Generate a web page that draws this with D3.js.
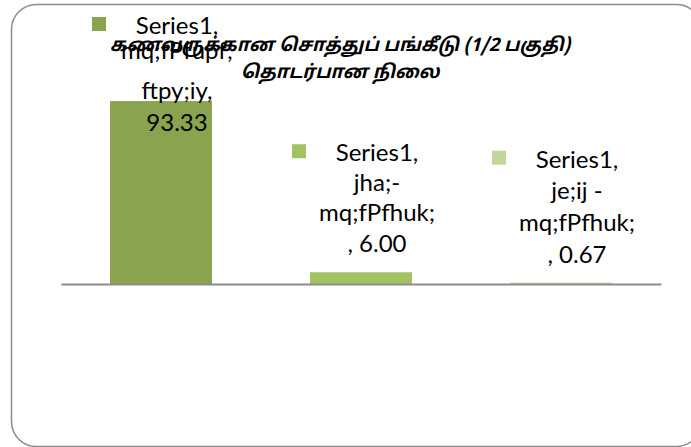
<!DOCTYPE html>
<html>
<head>
<meta charset="utf-8">
<script src="https://cdn.jsdelivr.net/npm/d3@7"></script>
<style>
  body { margin: 0; background: #fff; }
  svg text { font-family: Lato, "Open Sans", sans-serif; }
</style>
</head>
<body>
<script>
// chart data
var categories = ["mq;fPfupf; ftpy;iy", "jha;- mq;fPfhuk;", "je;ij - mq;fPfhuk;"];
var values = [93.33, 6.00, 0.67];
var seriesName = "Series1";
var barColors = ["#89a34f", "#a3c261", "#c3d69b"];
var titleLines = ["கணவருக்கான சொத்துப் பங்கீடு (1/2 பகுதி)", "தொடர்பான நிலை"];

// the text lines of each data label, as they wrap in the picture
var labelLines = [
  ["Series1,", "mq;fPfupf;", "ftpy;iy,", "93.33"],
  ["Series1,", "jha;-", "mq;fPfhuk;", ", 6.00"],
  ["Series1,", "je;ij -", "mq;fPfhuk;", ", 0.67"]
];
// baseline offsets of the label lines (the first label is squeezed at the top)
var labelLineOffsets = [
  [0, 25, 65, 97],
  [0, 30, 60, 91],
  [0, 31, 63, 95]
];

var width = 691, height = 447;
var axisY = 284, plotTop = 88, plotLeft = 61, plotRight = 661;

var svg = d3.select("body").append("svg")
    .attr("width", width)
    .attr("height", height);

// chart border
svg.append("rect")
    .attr("x", 11.5)
    .attr("y", 4.5)
    .attr("width", 690)
    .attr("height", 442)
    .attr("rx", 25)
    .attr("ry", 25)
    .attr("fill", "#fff")
    .attr("stroke", "#8c8c8c")
    .attr("stroke-width", 1.5);

var xScale = d3.scaleBand()
    .domain(categories)
    .range([plotLeft, plotRight])
    .paddingInner(0.49)
    .paddingOuter(0.245);

var yScale = d3.scaleLinear()
    .domain([0, 100])
    .range([axisY, plotTop]);

// bars
svg.selectAll(".bar")
    .data(values)
    .enter().append("rect")
    .attr("class", "bar")
    .attr("x", function(d, i) { return xScale(categories[i]); })
    .attr("y", function(d) { return yScale(d); })
    .attr("width", xScale.bandwidth())
    .attr("height", function(d) { return axisY - yScale(d); })
    .attr("fill", function(d, i) { return barColors[i]; });

// category axis, line only
var xAxis = d3.axisBottom(xScale).tickSize(0).tickFormat("");
var axisG = svg.append("g")
    .attr("transform", "translate(0," + axisY + ")")
    .call(xAxis);
axisG.select(".domain")
    .attr("stroke", "#8c8c8c")
    .attr("stroke-width", 2);

// data labels with legend keys
var labels = svg.selectAll(".label")
    .data(values)
    .enter().append("g")
    .attr("class", "label")
    .attr("transform", function(d, i) {
      var cx = xScale(categories[i]) + xScale.bandwidth() / 2;
      var offs = labelLineOffsets[i];
      var firstBase = yScale(d) - 20 - offs[offs.length - 1];
      if (firstBase < 34) firstBase = 34;
      return "translate(" + cx + "," + firstBase + ")";
    });

labels.append("rect")
    .attr("x", -69)
    .attr("y", -17)
    .attr("width", 14)
    .attr("height", 14)
    .attr("fill", function(d, i) { return barColors[i]; });

labels.each(function(d, i) {
  var g = d3.select(this);
  labelLines[i].forEach(function(line, j) {
    g.append("text")
      .attr("x", 16)
      .attr("y", labelLineOffsets[i][j])
      .attr("text-anchor", "middle")
      .style("font-size", "24px")
      .style("fill", "#000")
      .text(line);
  });
});

// title
svg.selectAll(".title")
    .data(titleLines)
    .enter().append("text")
    .attr("class", "title")
    .attr("x", 340)
    .attr("y", function(d, i) { return 51 + i * 27; })
    .attr("text-anchor", "middle")
    .style("font-size", "18.5px")
    .style("font-weight", "bold")
    .style("font-style", "italic")
    .style("font-family", "'Noto Sans Tamil', Latha, sans-serif")
    .text(function(d) { return d; });
</script>
</body>
</html>
